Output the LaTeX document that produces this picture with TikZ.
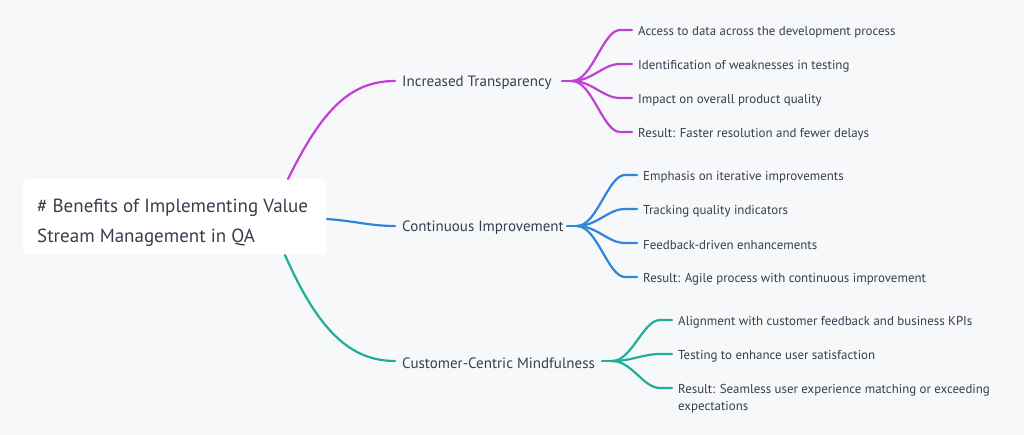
\documentclass[tikz,border=0pt]{standalone}
\usepackage{fontspec}
\setmainfont{PT Sans}
\definecolor{bg}{HTML}{F7F8FA}
\definecolor{txt}{HTML}{363F4E}
\definecolor{cmag}{HTML}{C13FD2}
\definecolor{cblue}{HTML}{2F86D8}
\definecolor{cteal}{HTML}{20AE96}
\begin{document}
\begin{tikzpicture}[x=1pt,y=-1pt,
  roottxt/.style={anchor=west,inner sep=0pt,font=\fontsize{19}{30}\selectfont,text=txt,align=left},
  branch/.style={anchor=west,inner sep=0pt,yshift=-2pt,font=\fontsize{15}{17}\selectfont,text=txt},
  leaf/.style={anchor=west,inner sep=0pt,yshift=-2pt,font=\fontsize{12.9}{17}\selectfont,text=txt,align=left},
  link/.style={line width=2.2pt,line cap=round}]
\fill[bg] (0,0) rectangle (1024,435);
\useasboundingbox (0,0) rectangle (1024,435);
% root
\fill[white,rounded corners=5pt] (23,179) rectangle (327,255);
\node[roottxt] (root) at (37,223) {\# Benefits of Implementing Value\\Stream Management in QA};
\coordinate (rtop) at (288,179);
\coordinate (rright) at (327,219);
\coordinate (rbot) at (285,255);
% branches
\node[branch] (b1) at (402,81) {Increased Transparency};
\node[branch] (b2) at (402,226) {Continuous Improvement};
\node[branch] (b3) at (402,361) {Customer-Centric Mindfulness};
\draw[link,cmag] (rtop) .. controls (322,110) and (350,81) .. ([xshift=-7pt,yshift=2pt]b1.west);
\draw[link,cblue] (rright) .. controls (355,221) and (370,226) .. ([xshift=-7pt,yshift=2pt]b2.west);
\draw[link,cteal] (rbot) .. controls (318,330) and (350,361) .. ([xshift=-7pt,yshift=2pt]b3.west);
% leaves branch 1
\node[leaf] (l11) at (638,30) {Access to data across the development process};
\node[leaf] (l12) at (638,64) {Identification of weaknesses in testing};
\node[leaf] (l13) at (638,98) {Impact on overall product quality};
\node[leaf] (l14) at (638,132) {Result: Faster resolution and fewer delays};
\coordinate (h1) at (562,81);
\draw[link,cmag] (h1) -- ++(10,0);
\foreach \n in {l11,l12,l13,l14}{
  \draw[link,cmag] ([xshift=10pt]h1) .. controls ([xshift=30pt]h1) and ([xshift=-35pt,yshift=2pt]\n.west) .. ([xshift=-18pt,yshift=2pt]\n.west) -- ([xshift=-6pt,yshift=2pt]\n.west);
}
% leaves branch 2
\node[leaf] (l21) at (643,175) {Emphasis on iterative improvements};
\node[leaf] (l22) at (643,209) {Tracking quality indicators};
\node[leaf] (l23) at (643,243) {Feedback-driven enhancements};
\node[leaf] (l24) at (643,277) {Result: Agile process with continuous improvement};
\coordinate (h2) at (567,226);
\draw[link,cblue] (h2) -- ++(10,0);
\foreach \n in {l21,l22,l23,l24}{
  \draw[link,cblue] ([xshift=10pt]h2) .. controls ([xshift=30pt]h2) and ([xshift=-35pt,yshift=2pt]\n.west) .. ([xshift=-18pt,yshift=2pt]\n.west) -- ([xshift=-6pt,yshift=2pt]\n.west);
}
% leaves branch 3
\node[leaf] (l31) at (678,320) {Alignment with customer feedback and business KPIs};
\node[leaf] (l32) at (678,354) {Testing to enhance user satisfaction};
\node[leaf,anchor=north west] (l33) at (678,382) {Result: Seamless user experience matching or exceeding\\expectations};
\coordinate (l31a) at (678,320);
\coordinate (l32a) at (678,354);
\coordinate (l33a) at (678,388);
\coordinate (h3) at (602,361);
\draw[link,cteal] (h3) -- ++(10,0);
\foreach \n in {l31a,l32a,l33a}{
  \draw[link,cteal] ([xshift=10pt]h3) .. controls ([xshift=30pt]h3) and ([xshift=-35pt]\n) .. ([xshift=-18pt]\n) -- ([xshift=-6pt]\n);
}
\end{tikzpicture}
\end{document}
